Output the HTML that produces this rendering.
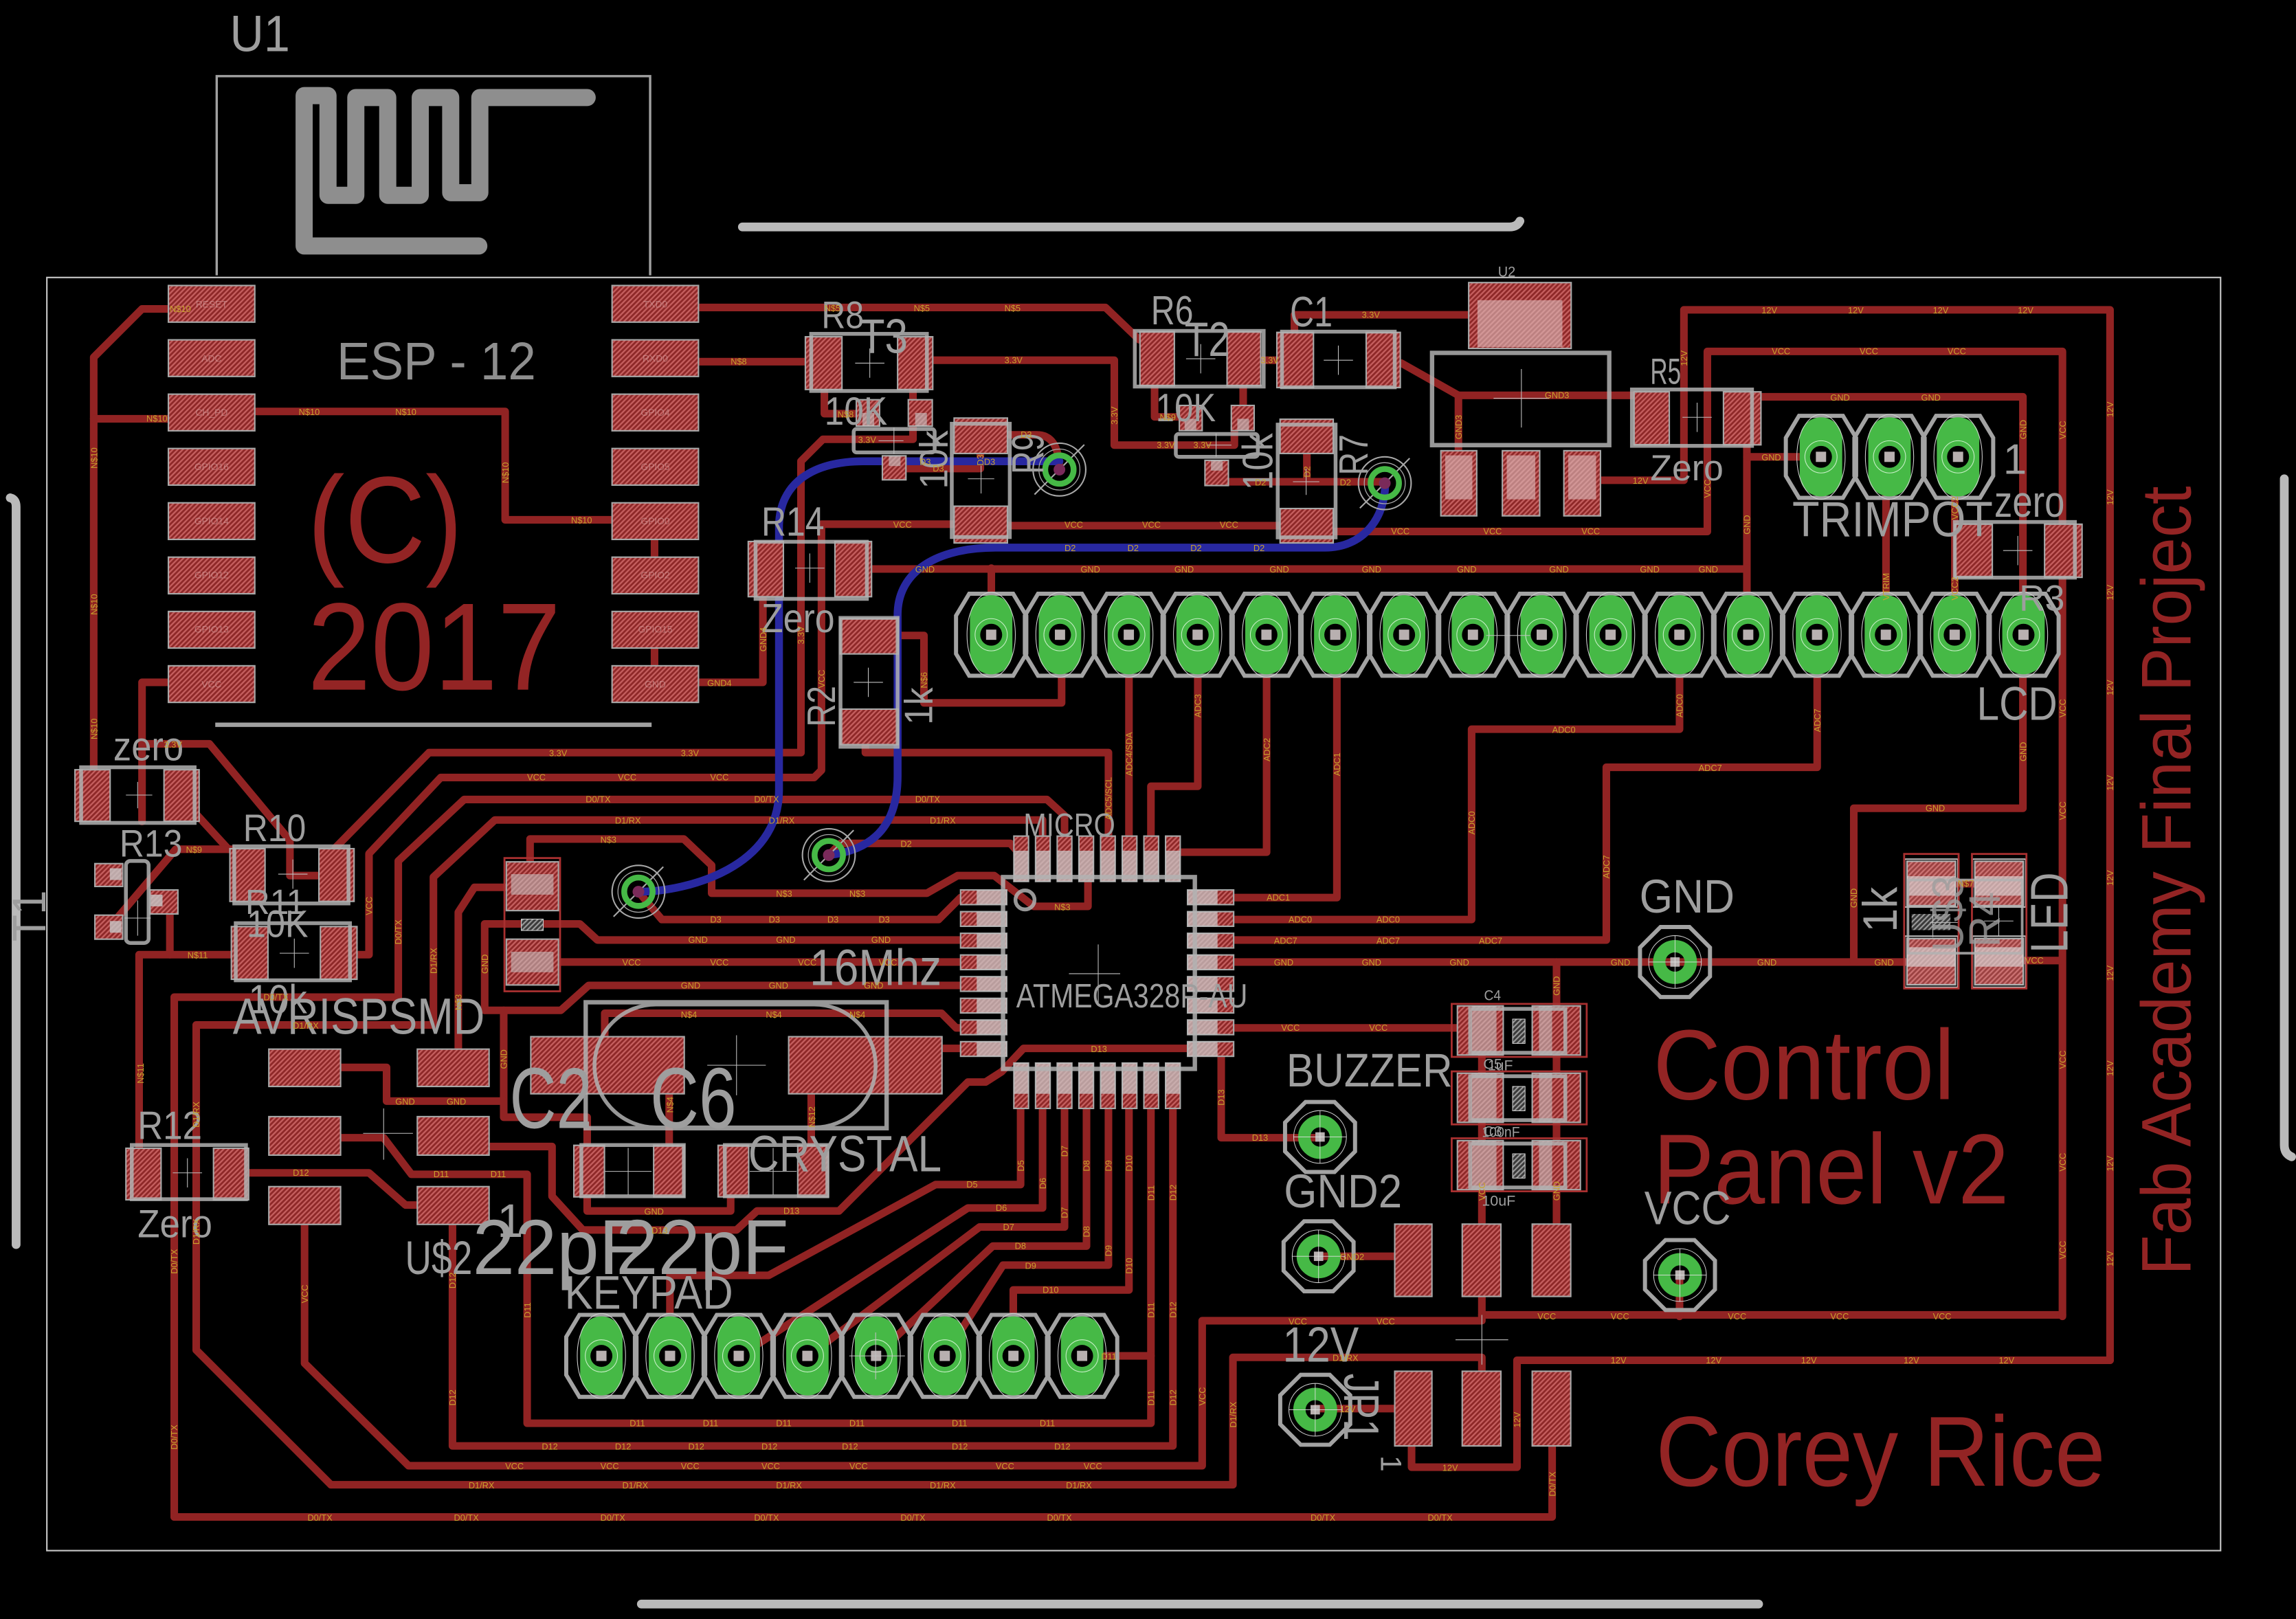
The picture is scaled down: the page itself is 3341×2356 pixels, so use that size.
<!DOCTYPE html>
<html><head><meta charset="utf-8">
<style>
html,body{margin:0;padding:0;background:#000;}
svg{display:block;}
text{font-family:"Liberation Sans","DejaVu Sans",sans-serif;}
.s{fill:#9e9e9e;}
.r{fill:#932424;}
.n{fill:#c9a22c;font-size:6px;}
.pl{fill:#d8a8a8;font-size:6.5px;opacity:.55;}
.p{fill:url(#hat);stroke:#a8a8a8;stroke-width:1;}
</style></head><body>
<svg xmlns="http://www.w3.org/2000/svg" xmlns:xlink="http://www.w3.org/1999/xlink" width="3341" height="2356" viewBox="0 0 1568 1105.7" preserveAspectRatio="none">
<defs>
<pattern id="hat" width="2.4" height="2.4" patternUnits="userSpaceOnUse" patternTransform="rotate(45)"><rect width="2.4" height="2.4" fill="#8e2828"/><rect width="1.1" height="2.4" fill="#c45e5e"/></pattern>
<pattern id="ghat" width="2.4" height="2.4" patternUnits="userSpaceOnUse" patternTransform="rotate(45)"><rect width="2.4" height="2.4" fill="#3a3a3a"/><rect width="1" height="2.4" fill="#9a9a9a"/></pattern>
<g id="lp">
<polygon points="-15,-28 15,-28 24,-13 24,13 15,28 -15,28 -24,13 -24,-13" fill="none" stroke="#a3a3a3" stroke-width="2.8"/>
<rect x="-14.5" y="-27" width="29" height="54" rx="14.5" fill="#46b946"/>
<ellipse rx="16.5" ry="29" fill="none" stroke="#d0d0d0" stroke-width=".5"/>
<circle r="11" fill="none" stroke="#c8f0c8" stroke-width=".5"/>
<circle r="7.5" fill="#000"/>
<rect x="-3.5" y="-3.5" width="7" height="7" fill="#b8b0b0"/>
</g>
<g id="rp">
<polygon points="23.9,-9.9 23.9,9.9 9.9,23.9 -9.9,23.9 -23.9,9.9 -23.9,-9.9 -9.9,-23.9 9.9,-23.9" fill="none" stroke="#a3a3a3" stroke-width="2.8"/>
<circle r="18" fill="none" stroke="#cccccc" stroke-width=".5"/>
<circle r="10.8" fill="none" stroke="#46b946" stroke-width="8.4"/>
<rect x="-3.2" y="-3.2" width="6.4" height="6.4" fill="#b8b0b0"/>
<path d="M-18,0 H18 M0,-18 V18" stroke="#e0e0e0" stroke-width=".4"/>
</g>
<g id="via">
<circle r="18" fill="none" stroke="#a8a8a8" stroke-width="1"/>
<circle r="14" fill="none" stroke="#a8a8a8" stroke-width=".6"/>
<line x1="17" y1="-17" x2="-17" y2="17" stroke="#a8a8a8" stroke-width="1"/>
<circle r="9.7" fill="none" stroke="#46b946" stroke-width="4"/>
<circle r="4" fill="#7a2a5a"/>
</g>
</defs>

<!-- board outline & mechanical -->
<rect x="32" y="189.5" width="1484.5" height="869.5" fill="none" stroke="#c8c8c8" stroke-width="1"/>
<g fill="none" stroke="#bababa" stroke-width="6" stroke-linecap="round">
<path d="M507,155 H1031 Q1036,155 1038,151"/>
<path d="M7,340 Q11,341 11,346 V850"/>
<path d="M1560,327 V782 Q1560,788 1565,790"/>
<path d="M438,1095.5 H1201"/>
</g>
<path d="M148,188 V52 H444 V188" fill="none" stroke="#a0a0a0" stroke-width="1.6"/>
<path d="M147,495 H445" stroke="#a0a0a0" stroke-width="3"/>
<path d="M327,168 H207.7 V65.3 H224 V133.4 H243 V66.6 H264.8 V133.4 H287 V66.6 H307.8 V131.6 H327.7 V66.6 H401" fill="none" stroke="#8e8e8e" stroke-width="11.7" stroke-linejoin="round" stroke-linecap="round"/>

<!-- red traces -->
<g fill="none" stroke="#912323" stroke-width="5.2" stroke-linejoin="round" stroke-linecap="round">
<path d="M115,211 H97 L64,244 V526"/>
<path d="M64,286 H115"/>
<path d="M174,281 H345 V355 H418"/>
<path d="M447,366 V382"/>
<path d="M447,440 V455"/>
<path d="M477,466 H521 V405"/>
<path d="M477,210 H755 L778,232"/>
<path d="M477,247 H552"/>
<path d="M563,264 V282.5 H586"/>
<path d="M637,246 H761 V304 H843 V292"/>
<path d="M623.5,275 V264"/>
<path d="M623.5,291 V300 H562 L547,315 V514 H293 L229,579"/>
<path d="M651,358 H561 V526 L556,531 H301 L252,583 V652 H243"/>
<path d="M115,466 H97 V561"/>
<path d="M97,508 H143 L198,574 V598 H218"/>
<path d="M134,556 L156,580"/>
<path d="M158,580 H120 L80,627"/>
<path d="M116,624 V652"/>
<path d="M95,784 V652 H158"/>
<path d="M119,1036 V681 H272 V588 L317,546 H715 L727,557 V572"/>
<path d="M226,1014 L134,922 V700 H296 V599 L338,560 H712 V572"/>
<path d="M362,589 V573 H467 L486,591 V610 H633 L654,598 H679 L706,619 H743 V602"/>
<path d="M346,606 H324 L313,623 V716"/>
<path d="M436,609 L452,628 H641 L656,613"/>
<path d="M566,584 L574,576 H690 L697,584"/>
<path d="M331,690 V631 H396 L408,642 H656"/>
<path d="M331,690 H383 L402,673 H656"/>
<path d="M232,729 H264 V752 H344 V690"/>
<path d="M344,752 V763 H401 V782"/>
<path d="M381,657 H656"/>
<path d="M413,716 V692 H643 L653,702 H660"/>
<path d="M643,716 H660"/>
<path d="M457,747 V782"/>
<path d="M554,747 V782"/>
<path d="M401,817 V827 H499 V817"/>
<path d="M334,783 H377 V817 L398,840 H503 L517,827 H573 L661,739 H673 L684,732 L699,716 H820"/>
<path d="M834,716 V777 H901"/>
<path d="M232,777 H262 L281,802 H360 V972 H786 V757"/>
<path d="M739,926 H786"/>
<path d="M170,801 H252 L277,823 H285"/>
<path d="M309,836 V987.5 H801 V757"/>
<path d="M208,836 V931 L279,1001 H821 V902 H1012 V898 H1408.5"/>
<path d="M1012,885 V898"/>
<path d="M226,1014 H842 V927 H1012 V936"/>
<path d="M119,1036 H1060 V987"/>
<path d="M1441,929 H1036 V1002 H964 V987"/>
<path d="M898,962 H953"/>
<path d="M900,858 H953"/>
<path d="M697,757 V809 H639 L525,871 H457.5 V926"/>
<path d="M712,757 V825 H661 L505,926"/>
<path d="M727,757 V838 H669 L552,926"/>
<path d="M742,757 V851 H678 L598,926"/>
<path d="M757,757 V864 H685 L645,926"/>
<path d="M771,757 V881 H692 V926"/>
<path d="M842,702 H995"/>
<path d="M842,657 H1302"/>
<path d="M1063,657 V836"/>
<path d="M1012,702 V836"/>
<path d="M842,613 H913 V433"/>
<path d="M842,628 H1005 V498 H1147 V433"/>
<path d="M842,642 H1097 V524 H1241 V433"/>
<path d="M801,582 H865 V433"/>
<path d="M786,572 V537 H818 V433"/>
<path d="M771,572 V433"/>
<path d="M591,508 V514 H757 V572"/>
<path d="M725,433 V480 H631 V434 H613"/>
<path d="M595,388.6 H1193 V271 H1381.5 V552 H1266 V657"/>
<path d="M677,388 V433"/>
<path d="M1193,388 V433"/>
<path d="M1193,312 H1243"/>
<path d="M911,363 H1166 V240 H1408.5 V899"/>
<path d="M689,359 H874"/>
<path d="M1383,656 H1408"/>
<path d="M1336,603.5 H1348"/>
<path d="M1288,312 V433"/>
<path d="M1335,312 V433"/>
<path d="M1094,328 H1150 V211.6 H1441 V929"/>
<path d="M957,248 L996,270 V308"/>
<path d="M996,270 H1117"/>
<path d="M884,228 V215 H1003"/>
<path d="M861,246 H872"/>
<path d="M788.5,263 V284.7 H806"/>
<path d="M849,277 V263"/>
<path d="M829,329 H946"/>
<path d="M892.5,309 V329"/>
<path d="M619,320 H669.5 V309"/>
<path d="M688,297 H708 Q723,297 723.5,320"/>
<path d="M1147,870 V899"/>
</g>

<!-- blue traces -->
<g fill="none" stroke="#2828a0" stroke-width="5.4" stroke-linecap="round">
<path d="M436,609 C470,609 532,592 532,540 V360 C532,330 555,315 590,315 H723.5"/>
<path d="M566,584 C600,580 613,560 613,530 V420 C613,390 640,374 680,374 H905 C930,374 946,355 946,330"/>
</g>

<!-- big red texts -->
<g class="r">
<text x="210" y="384" font-size="84" textLength="106" lengthAdjust="spacingAndGlyphs">(C)</text>
<text x="210" y="471" font-size="85" textLength="173" lengthAdjust="spacingAndGlyphs">2017</text>
<text x="1129" y="750.7" font-size="68" textLength="206" lengthAdjust="spacingAndGlyphs">Control</text>
<text x="1129" y="821.9" font-size="68" textLength="243" lengthAdjust="spacingAndGlyphs">Panel v2</text>
<text x="1130.8" y="1014.7" font-size="68" textLength="307" lengthAdjust="spacingAndGlyphs">Corey Rice</text>
<text transform="translate(1496,871) rotate(-90)" font-size="48" textLength="539" lengthAdjust="spacingAndGlyphs">Fab Academy Final Project</text>
</g>

<!-- SMD pads -->
<g>
<rect class="p" x="115" y="195" width="59" height="25"/>
<rect class="p" x="115" y="232.1" width="59" height="25"/>
<rect class="p" x="115" y="269.2" width="59" height="25"/>
<rect class="p" x="115" y="306.3" width="59" height="25"/>
<rect class="p" x="115" y="343.4" width="59" height="25"/>
<rect class="p" x="115" y="380.5" width="59" height="25"/>
<rect class="p" x="115" y="417.6" width="59" height="25"/>
<rect class="p" x="115" y="454.7" width="59" height="25"/>
<rect class="p" x="418" y="195" width="59" height="25"/>
<rect class="p" x="418" y="232.1" width="59" height="25"/>
<rect class="p" x="418" y="269.2" width="59" height="25"/>
<rect class="p" x="418" y="306.3" width="59" height="25"/>
<rect class="p" x="418" y="343.4" width="59" height="25"/>
<rect class="p" x="418" y="380.5" width="59" height="25"/>
<rect class="p" x="418" y="417.6" width="59" height="25"/>
<rect class="p" x="418" y="454.7" width="59" height="25"/>

<rect class="p" x="550" y="230" width="25" height="36"/>
<rect class="p" x="613" y="230" width="24" height="36"/>
<rect class="p" x="778.5" y="226.5" width="23.5" height="37"/>
<rect class="p" x="838" y="226.5" width="23" height="37"/>
<rect class="p" x="872" y="227" width="25" height="37.7"/>
<rect class="p" x="933" y="227" width="23.3" height="37.7"/>
<rect class="p" x="620.3" y="273" width="16.4" height="18"/>
<rect class="p" x="602.6" y="311.3" width="16.1" height="16.4"/>
<rect class="p" x="584.8" y="273" width="15.9" height="18"/>
<rect class="p" x="805.4" y="276.9" width="15.6" height="17.2"/>
<rect class="p" x="840.9" y="276.9" width="15.6" height="17.2"/>
<rect class="p" x="822.9" y="314.4" width="16" height="17.2"/>
<g fill="#cacaca" opacity=".6">
<rect x="589" y="282" width="8" height="9"/><rect x="625" y="282" width="8" height="9"/><rect x="607" y="311.3" width="8" height="7"/>
<rect x="809" y="286" width="8" height="8"/><rect x="845" y="286" width="8" height="8"/><rect x="827" y="314.4" width="8" height="7"/>
</g>
<rect class="p" x="651.6" y="285.5" width="36.4" height="24.2"/>
<rect class="p" x="651.6" y="345.7" width="36.4" height="25.1"/>
<rect class="p" x="874.2" y="286.3" width="36.3" height="23.4"/>
<rect class="p" x="874.2" y="347.3" width="36.3" height="23.5"/>
<rect class="p" x="511" y="369.8" width="24" height="37.7"/>
<rect class="p" x="570.2" y="369.8" width="25" height="37.7"/>
<rect class="p" x="573.8" y="422.3" width="39.5" height="24.3"/>
<rect class="p" x="573.8" y="484.3" width="39.5" height="24.2"/>
<rect class="p" x="1003" y="193" width="70" height="45"/>
<rect x="1009" y="205" width="58" height="32" fill="#dcbcbc" opacity=".6"/>
<rect class="p" x="984" y="307.8" width="24.5" height="44.5"/>
<rect class="p" x="1026" y="307.8" width="25.5" height="44.5"/>
<rect class="p" x="1068" y="307.8" width="25" height="44.5"/>
<rect x="987" y="311" width="18.5" height="30" fill="#dcbcbc" opacity=".6"/>
<rect x="1029" y="311" width="19.5" height="30" fill="#dcbcbc" opacity=".6"/>
<rect x="1071" y="311" width="19" height="30" fill="#dcbcbc" opacity=".6"/>
<rect class="p" x="1116" y="267.6" width="24" height="36.2"/>
<rect class="p" x="1177" y="267.6" width="25.6" height="36.2"/>
<rect class="p" x="1335" y="358" width="25.6" height="36.3"/>
<rect class="p" x="1396.3" y="358" width="25.6" height="36.3"/>
<rect class="p" x="51.2" y="525.7" width="24" height="35.2"/>
<rect class="p" x="112" y="525.7" width="24" height="35.2"/>
<rect class="p" x="64.8" y="589.8" width="19" height="15.6"/>
<rect class="p" x="64.8" y="625" width="19" height="16.4"/>
<rect class="p" x="102.5" y="607.8" width="19" height="16.4"/>
<rect x="75" y="593" width="8" height="8" fill="#c8c8c8" opacity=".8"/>
<rect x="75" y="629" width="8" height="8" fill="#c8c8c8" opacity=".8"/>
<rect x="103" y="611" width="8" height="8" fill="#c8c8c8" opacity=".8"/>
<rect class="p" x="157" y="579.6" width="24" height="36"/>
<rect class="p" x="217.8" y="579.6" width="24" height="36"/>
<rect class="p" x="158" y="632.8" width="25" height="36"/>
<rect class="p" x="218.8" y="632.8" width="25" height="36"/>
<rect class="p" x="86" y="784.2" width="24" height="35.2"/>
<rect class="p" x="145.8" y="784.2" width="24" height="35.2"/>
<rect class="p" x="345.8" y="588.6" width="35.6" height="33.3"/>
<rect class="p" x="345.8" y="641.4" width="35.6" height="31.3"/>
<rect x="349" y="597" width="29" height="14" fill="#c8c8c8" opacity=".55"/>
<rect x="349" y="650" width="29" height="14" fill="#c8c8c8" opacity=".55"/>
<rect x="356" y="627.7" width="15" height="7.8" fill="url(#ghat)" stroke="#ccc" stroke-width=".5"/>
<rect class="p" x="183.6" y="716.5" width="49" height="25.5"/>
<rect class="p" x="285" y="716.5" width="49" height="25.5"/>
<rect class="p" x="183.6" y="762.6" width="49" height="26.3"/>
<rect class="p" x="285" y="762.6" width="49" height="26.3"/>
<rect class="p" x="183.6" y="810.4" width="49" height="25.8"/>
<rect class="p" x="285" y="810.4" width="49" height="25.8"/>
<rect class="p" x="362.5" y="708" width="104.8" height="39"/>
<rect class="p" x="538.6" y="708" width="104.7" height="39"/>
<rect class="p" x="391.9" y="782.2" width="20.9" height="35.2"/>
<rect class="p" x="446.4" y="782.2" width="20.9" height="35.2"/>
<rect class="p" x="490.4" y="782.2" width="20.9" height="35.2"/>
<rect class="p" x="544.8" y="782.2" width="21" height="35.2"/>
<!-- MCU pads -->
<rect class="p" x="692.4" y="571" width="10" height="31"/><rect class="p" x="707.2" y="571" width="10" height="31"/><rect class="p" x="722" y="571" width="10" height="31"/><rect class="p" x="736.8" y="571" width="10" height="31"/><rect class="p" x="751.6" y="571" width="10" height="31"/><rect class="p" x="766.4" y="571" width="10" height="31"/><rect class="p" x="781.2" y="571" width="10" height="31"/><rect class="p" x="796" y="571" width="10" height="31"/>
<rect class="p" x="692.4" y="726" width="10" height="31"/><rect class="p" x="707.2" y="726" width="10" height="31"/><rect class="p" x="722" y="726" width="10" height="31"/><rect class="p" x="736.8" y="726" width="10" height="31"/><rect class="p" x="751.6" y="726" width="10" height="31"/><rect class="p" x="766.4" y="726" width="10" height="31"/><rect class="p" x="781.2" y="726" width="10" height="31"/><rect class="p" x="796" y="726" width="10" height="31"/>
<rect class="p" x="656" y="607.8" width="31.5" height="10"/><rect class="p" x="656" y="622.6" width="31.5" height="10"/><rect class="p" x="656" y="637.4" width="31.5" height="10"/><rect class="p" x="656" y="652.2" width="31.5" height="10"/><rect class="p" x="656" y="667" width="31.5" height="10"/><rect class="p" x="656" y="681.8" width="31.5" height="10"/><rect class="p" x="656" y="696.6" width="31.5" height="10"/><rect class="p" x="656" y="711.4" width="31.5" height="10"/>
<rect class="p" x="811" y="607.8" width="31.5" height="10"/><rect class="p" x="811" y="622.6" width="31.5" height="10"/><rect class="p" x="811" y="637.4" width="31.5" height="10"/><rect class="p" x="811" y="652.2" width="31.5" height="10"/><rect class="p" x="811" y="667" width="31.5" height="10"/><rect class="p" x="811" y="681.8" width="31.5" height="10"/><rect class="p" x="811" y="696.6" width="31.5" height="10"/><rect class="p" x="811" y="711.4" width="31.5" height="10"/>
<g fill="#cacaca" opacity=".72">
<rect x="692.4" y="581" width="10" height="21"/><rect x="707.2" y="581" width="10" height="21"/><rect x="722" y="581" width="10" height="21"/><rect x="736.8" y="581" width="10" height="21"/><rect x="751.6" y="581" width="10" height="21"/><rect x="766.4" y="581" width="10" height="21"/><rect x="781.2" y="581" width="10" height="21"/><rect x="796" y="581" width="10" height="21"/>
<rect x="692.4" y="726" width="10" height="21"/><rect x="707.2" y="726" width="10" height="21"/><rect x="722" y="726" width="10" height="21"/><rect x="736.8" y="726" width="10" height="21"/><rect x="751.6" y="726" width="10" height="21"/><rect x="766.4" y="726" width="10" height="21"/><rect x="781.2" y="726" width="10" height="21"/><rect x="796" y="726" width="10" height="21"/>
<rect x="667" y="607.8" width="20.5" height="10"/><rect x="667" y="622.6" width="20.5" height="10"/><rect x="667" y="637.4" width="20.5" height="10"/><rect x="667" y="652.2" width="20.5" height="10"/><rect x="667" y="667" width="20.5" height="10"/><rect x="667" y="681.8" width="20.5" height="10"/><rect x="667" y="696.6" width="20.5" height="10"/><rect x="667" y="711.4" width="20.5" height="10"/>
<rect x="811" y="607.8" width="20.5" height="10"/><rect x="811" y="622.6" width="20.5" height="10"/><rect x="811" y="637.4" width="20.5" height="10"/><rect x="811" y="652.2" width="20.5" height="10"/><rect x="811" y="667" width="20.5" height="10"/><rect x="811" y="681.8" width="20.5" height="10"/><rect x="811" y="696.6" width="20.5" height="10"/><rect x="811" y="711.4" width="20.5" height="10"/>
</g>
<!-- C4 C5 C3 -->
<rect class="p" x="995.3" y="687" width="31.3" height="33.5"/><rect class="p" x="1046.4" y="687" width="32.9" height="33.5"/>
<rect class="p" x="995.3" y="733" width="31.3" height="33.5"/><rect class="p" x="1046.4" y="733" width="32.9" height="33.5"/>
<rect class="p" x="995.3" y="779" width="31.3" height="33.5"/><rect class="p" x="1046.4" y="779" width="32.9" height="33.5"/>
<g fill="#cccccc" opacity=".55">
<rect x="1005" y="687" width="17" height="33.5"/><rect x="1051" y="687" width="9" height="33.5"/>
<rect x="1005" y="733" width="17" height="33.5"/><rect x="1051" y="733" width="9" height="33.5"/>
<rect x="1005" y="779" width="17" height="33.5"/><rect x="1051" y="779" width="9" height="33.5"/>
</g>
<g fill="url(#ghat)" stroke="#d0d0d0" stroke-width=".5">
<rect x="1033" y="696" width="8.5" height="16.6"/><rect x="1033" y="742" width="8.5" height="16.6"/><rect x="1033" y="788" width="8.5" height="16.6"/>
</g>
<g fill="none" stroke="#a83030" stroke-width="1.3">
<rect x="991.4" y="685.6" width="92.2" height="36.2"/><rect x="991.4" y="731.7" width="92.2" height="36.2"/><rect x="991.4" y="777.4" width="92.2" height="36.2"/>
</g>
<!-- header -->
<rect class="p" x="952.5" y="836" width="25.4" height="49.4"/><rect class="p" x="998.6" y="836" width="26.4" height="49.4"/><rect class="p" x="1046.4" y="836" width="26.3" height="49.4"/>
<rect class="p" x="952.5" y="936.5" width="25.4" height="51"/><rect class="p" x="998.6" y="936.5" width="26.4" height="51"/><rect class="p" x="1046.4" y="936.5" width="26.3" height="51"/>
<!-- LED / R4 -->
<rect class="p" x="1302.4" y="588.2" width="33" height="30.3"/>
<rect class="p" x="1302.4" y="641" width="33" height="31.5"/>
<rect class="p" x="1348.7" y="588.2" width="33" height="30.3"/>
<rect class="p" x="1348.7" y="641" width="33" height="31.5"/>
<g fill="#d4d4d4" opacity=".65">
<rect x="1302.4" y="598.4" width="33" height="13.3"/>
<rect x="1302.4" y="646.9" width="33" height="13.3"/>
<rect x="1348.7" y="598.4" width="33" height="13.3"/>
<rect x="1348.7" y="646.9" width="33" height="13.3"/>
</g>
<g fill="#ffffff" opacity=".12">
<rect x="1300.8" y="586.7" width="36.2" height="32.8"/><rect x="1300.8" y="639.3" width="36.2" height="35"/>
<rect x="1347.1" y="586.7" width="36.2" height="32.8"/><rect x="1347.1" y="639.3" width="36.2" height="35"/>
</g>
<g fill="none" stroke="#cfcfcf" stroke-width=".8">
<rect x="1300.8" y="586.7" width="36.2" height="32.8"/><rect x="1300.8" y="639.3" width="36.2" height="35"/>
<rect x="1347.1" y="586.7" width="36.2" height="32.8"/><rect x="1347.1" y="639.3" width="36.2" height="35"/>
</g>
<rect x="1305.5" y="624.2" width="26.5" height="11" fill="url(#ghat)"/>
<g fill="none" stroke="#a83030" stroke-width="1.3"><rect x="1300.4" y="583.2" width="37.2" height="91.9"/><rect x="1346.7" y="583.2" width="37.2" height="91.9"/></g>
</g>

<!-- ESP pad labels -->
<g class="pl" text-anchor="middle">
<text x="144.5" y="210">RESET</text><text x="144.5" y="247">ADC</text><text x="144.5" y="284">CH_PD</text><text x="144.5" y="321">GPIO16</text><text x="144.5" y="358">GPIO14</text><text x="144.5" y="395">GPIO12</text><text x="144.5" y="432">GPIO13</text><text x="144.5" y="469.5">VCC</text>
<text x="447.5" y="210">TXD0</text><text x="447.5" y="247">RXD0</text><text x="447.5" y="284">GPIO4</text><text x="447.5" y="321">GPIO5</text><text x="447.5" y="358">GPIO0</text><text x="447.5" y="395">GPIO2</text><text x="447.5" y="432">GPIO15</text><text x="447.5" y="469.5">GND</text>
</g>

<!-- THT pads -->
<g>
<use href="#lp" x="676.9" y="433.5"/><use href="#lp" x="723.9" y="433.5"/><use href="#lp" x="770.9" y="433.5"/><use href="#lp" x="817.9" y="433.5"/><use href="#lp" x="864.9" y="433.5"/><use href="#lp" x="911.9" y="433.5"/><use href="#lp" x="958.9" y="433.5"/><use href="#lp" x="1005.9" y="433.5"/><use href="#lp" x="1052.9" y="433.5"/><use href="#lp" x="1099.9" y="433.5"/><use href="#lp" x="1146.9" y="433.5"/><use href="#lp" x="1193.9" y="433.5"/><use href="#lp" x="1240.9" y="433.5"/><use href="#lp" x="1287.9" y="433.5"/><use href="#lp" x="1334.9" y="433.5"/><use href="#lp" x="1381.9" y="433.5"/>
<use href="#lp" x="1243.6" y="312"/><use href="#lp" x="1290.4" y="312"/><use href="#lp" x="1337.2" y="312"/>
<use href="#lp" x="410.7" y="926"/><use href="#lp" x="457.6" y="926"/><use href="#lp" x="504.5" y="926"/><use href="#lp" x="551.4" y="926"/><use href="#lp" x="598.3" y="926"/><use href="#lp" x="645.2" y="926"/><use href="#lp" x="692.1" y="926"/><use href="#lp" x="739" y="926"/>
<use href="#rp" x="1143.9" y="657"/><use href="#rp" x="901.5" y="776.5"/><use href="#rp" x="900.5" y="858"/><use href="#rp" x="1147.3" y="870.8"/><use href="#rp" x="898.2" y="962.8"/>
<use href="#via" x="723.5" y="320.7"/><use href="#via" x="945.7" y="330"/><use href="#via" x="436" y="609"/><use href="#via" x="566" y="584"/>
</g>

<!-- silkscreen outlines -->
<g fill="none" stroke="#b2b2b2" stroke-width="2.6" opacity=".85">
<rect x="554" y="228" width="79" height="39"/>
<rect x="775" y="226" width="88" height="38"/>
<rect x="875.5" y="226.5" width="77" height="38"/>
<rect x="583" y="293" width="55.3" height="16" rx="2"/>
<rect x="803" y="296.4" width="56" height="15.6" rx="2"/>
<rect x="650" y="289.4" width="39.6" height="77.4"/>
<rect x="872.6" y="290" width="39.5" height="77"/>
<rect x="516" y="370" width="76" height="39"/>
<rect x="574" y="422" width="39" height="88"/>
<rect x="1114.5" y="266" width="82" height="38.5"/>
<rect x="1335" y="356.5" width="82" height="38"/>
<rect x="978" y="241" width="121" height="63" stroke-width="3"/>
<rect x="55.4" y="524" width="77.5" height="38"/>
<rect x="160" y="578" width="78" height="39"/>
<rect x="161" y="630.5" width="78" height="39"/>
<rect x="90" y="782" width="78" height="37"/>
<rect x="86" y="588" width="15.5" height="56" rx="3"/>
<rect x="400" y="684.5" width="205.5" height="86" stroke-width="3"/>
<rect x="406" y="686" width="192" height="84" rx="42"/>
<rect x="397" y="782" width="70" height="35"/>
<rect x="495" y="782" width="70" height="35"/>
<rect x="685" y="599" width="131" height="131" stroke-width="3"/>
<circle cx="700" cy="614.6" r="6.5"/>
<rect x="1004" y="689" width="65" height="30"/>
<rect x="1004" y="735" width="65" height="30"/>
<rect x="1004" y="781" width="65" height="30"/>
<rect x="1303" y="601" width="78" height="50" stroke-width="1.8"/>
</g>
<rect x="344.5" y="586" width="38" height="91" fill="none" stroke="#a83030" stroke-width="1.3"/>
<!-- crosshairs -->
<g stroke="#c0c0c0" stroke-width=".5">
<path d="M584,248 H604 M594,238 V258"/>
<path d="M810,245 H830 M820,235 V255"/>
<path d="M904,246 H924 M914,236 V256"/>
<path d="M1020,272 H1058 M1039,252 V292"/>
<path d="M1149,285 H1169 M1159,275 V295"/>
<path d="M1368,376 H1388 M1378,366 V386"/>
<path d="M543,388 H563 M553,378 V398"/>
<path d="M583,466 H603 M593,456 V476"/>
<path d="M600,301 H617 M610.5,292 V310"/>
<path d="M824,304 H841 M830.5,296 V312"/>
<path d="M661,327 H679 M670,318 V337"/>
<path d="M883,329 H901 M892,320 V338"/>
<path d="M730,665 H765 M750,645 V685"/>
<path d="M483,727.5 H523 M503,707 V748"/>
<path d="M413,800 H445 M429,784 V816"/>
<path d="M512,800 H544 M528,784 V816"/>
<path d="M248,774 H282 M262,757 V792"/>
<path d="M994,915 H1030 M1012,898 V932"/>
<path d="M1015,434 H1045 M1030,419 V449"/>
<path d="M86,543 H104 M94,534 V552"/>
<path d="M190,597 H210 M200,587 V607"/>
<path d="M191,651 H211 M201,641 V661"/>
<path d="M118,801 H138 M128,791 V811"/>
<path d="M85,627 H103 M94,615 V639"/>
<path d="M580,926 H618 M598,910 V942"/>
<path d="M1318,630 H1337 M1320,620 V640"/>
<path d="M1355,629 H1375 M1365,619 V639"/>
</g>

<!-- silkscreen labels -->
<g class="s">
<text x="157" y="35" font-size="35" textLength="41" lengthAdjust="spacingAndGlyphs">U1</text>
<text x="230" y="259" font-size="36" textLength="136" lengthAdjust="spacingAndGlyphs" fill="#8e8e8e">ESP - 12</text>
<text x="561" y="224" font-size="26" textLength="29" lengthAdjust="spacingAndGlyphs">R8</text>
<text x="587" y="241" font-size="33" textLength="33" lengthAdjust="spacingAndGlyphs">T3</text>
<text x="563" y="290" font-size="27" textLength="43" lengthAdjust="spacingAndGlyphs">10K</text>
<text transform="translate(712.6,323.8) rotate(-90)" font-size="31" textLength="28" lengthAdjust="spacingAndGlyphs">R9</text>
<text transform="translate(646.9,334) rotate(-90)" font-size="27" textLength="40" lengthAdjust="spacingAndGlyphs">10k</text>
<text x="786" y="221.6" font-size="28" textLength="29" lengthAdjust="spacingAndGlyphs">R6</text>
<text x="809" y="243" font-size="33" textLength="31" lengthAdjust="spacingAndGlyphs">T2</text>
<text x="789.3" y="287.8" font-size="27" textLength="41" lengthAdjust="spacingAndGlyphs">10K</text>
<text transform="translate(934,324.6) rotate(-90)" font-size="28" textLength="28" lengthAdjust="spacingAndGlyphs">R7</text>
<text transform="translate(869,334.8) rotate(-90)" font-size="29" textLength="39" lengthAdjust="spacingAndGlyphs">10k</text>
<text x="881" y="223" font-size="29" textLength="29" lengthAdjust="spacingAndGlyphs">C1</text>
<text x="1023" y="189" font-size="10" textLength="12" lengthAdjust="spacingAndGlyphs">U2</text>
<text x="1127" y="262" font-size="25" textLength="21" lengthAdjust="spacingAndGlyphs">R5</text>
<text x="1127" y="328" font-size="25" textLength="50" lengthAdjust="spacingAndGlyphs">Zero</text>
<text x="1368" y="323.5" font-size="29">1</text>
<text x="1224" y="366.4" font-size="34" textLength="137" lengthAdjust="spacingAndGlyphs">TRIMPOT</text>
<text x="1362" y="353" font-size="30" textLength="48" lengthAdjust="spacingAndGlyphs">zero</text>
<text x="1379" y="417" font-size="25" textLength="31" lengthAdjust="spacingAndGlyphs">R3</text>
<text x="1350" y="491.5" font-size="32" textLength="55" lengthAdjust="spacingAndGlyphs">LCD</text>
<text x="520" y="365.8" font-size="28" textLength="43" lengthAdjust="spacingAndGlyphs">R14</text>
<text x="520" y="431.7" font-size="28" textLength="50" lengthAdjust="spacingAndGlyphs">Zero</text>
<text transform="translate(570.2,496.4) rotate(-90)" font-size="27" textLength="28" lengthAdjust="spacingAndGlyphs">R2</text>
<text transform="translate(636.6,495) rotate(-90)" font-size="27" textLength="25.5" lengthAdjust="spacingAndGlyphs">1k</text>
<text x="699" y="571" font-size="22" textLength="62.6" lengthAdjust="spacingAndGlyphs">MICRO</text>
<text x="694" y="688" font-size="23" textLength="158" lengthAdjust="spacingAndGlyphs">ATMEGA328P-AU</text>
<text x="553" y="672.7" font-size="35" textLength="90" lengthAdjust="spacingAndGlyphs">16Mhz</text>
<text x="511" y="800" font-size="35" textLength="132" lengthAdjust="spacingAndGlyphs">CRYSTAL</text>
<text x="348" y="770.5" font-size="59" textLength="56.5" lengthAdjust="spacingAndGlyphs">C2</text>
<text x="444" y="770.5" font-size="59" textLength="59" lengthAdjust="spacingAndGlyphs">C6</text>
<text x="322.7" y="870" font-size="53" textLength="118" lengthAdjust="spacingAndGlyphs">22pF</text>
<text x="420.6" y="870" font-size="53" textLength="118" lengthAdjust="spacingAndGlyphs">22pF</text>
<text x="385.6" y="893.7" font-size="32" textLength="115" lengthAdjust="spacingAndGlyphs">KEYPAD</text>
<text x="276.6" y="870" font-size="32" textLength="46" lengthAdjust="spacingAndGlyphs">U$2</text>
<text x="339.5" y="844.8" font-size="32">1</text>
<text x="159" y="706" font-size="35" textLength="172" lengthAdjust="spacingAndGlyphs">AVRISPSMD</text>
<text x="166" y="574.5" font-size="26" textLength="43" lengthAdjust="spacingAndGlyphs">R10</text>
<text x="167.5" y="624.2" font-size="24" textLength="41" lengthAdjust="spacingAndGlyphs">R11</text>
<text x="168.5" y="640" font-size="26" textLength="42" lengthAdjust="spacingAndGlyphs">10K</text>
<text x="169.7" y="692" font-size="28" textLength="40" lengthAdjust="spacingAndGlyphs">10k</text>
<text x="81.6" y="585" font-size="26" textLength="43" lengthAdjust="spacingAndGlyphs">R13</text>
<text x="77.4" y="519.4" font-size="28" textLength="48" lengthAdjust="spacingAndGlyphs">zero</text>
<text x="94" y="778" font-size="27" textLength="44" lengthAdjust="spacingAndGlyphs">R12</text>
<text x="94" y="845" font-size="27" textLength="51" lengthAdjust="spacingAndGlyphs">Zero</text>
<text transform="translate(31,643) rotate(-90)" font-size="32" textLength="35" lengthAdjust="spacingAndGlyphs">T1</text>
<text x="1119.6" y="623.2" font-size="32" textLength="65" lengthAdjust="spacingAndGlyphs">GND</text>
<text x="878.5" y="742" font-size="32" textLength="113.5" lengthAdjust="spacingAndGlyphs">BUZZER</text>
<text x="876.8" y="824.5" font-size="32" textLength="80.7" lengthAdjust="spacingAndGlyphs">GND2</text>
<text x="876" y="930" font-size="34" textLength="52" lengthAdjust="spacingAndGlyphs">12V</text>
<text transform="translate(918,938) rotate(90)" font-size="34" textLength="46" lengthAdjust="spacingAndGlyphs">JP1</text>
<text transform="translate(943,994) rotate(90)" font-size="20">1</text>
<text x="1123" y="836" font-size="32" textLength="59" lengthAdjust="spacingAndGlyphs">VCC</text>
<text x="1013.5" y="683" font-size="10" textLength="11.5" lengthAdjust="spacingAndGlyphs">C4</text>
<text x="1013" y="730" font-size="10">C5</text><text x="1016" y="731" font-size="10">1uF</text>
<text x="1013" y="776" font-size="10">C3</text><text x="1012" y="776.5" font-size="10" textLength="26" lengthAdjust="spacingAndGlyphs">100nF</text>
<text x="1012" y="823.5" font-size="10" textLength="23" lengthAdjust="spacingAndGlyphs">10uF</text>
<text transform="translate(1295.3,636.7) rotate(-90)" font-size="33" textLength="31" lengthAdjust="spacingAndGlyphs">1k</text>
<text transform="translate(1412,650.8) rotate(-90)" font-size="36" textLength="55" lengthAdjust="spacingAndGlyphs">LED</text>
<text transform="translate(1340.7,650) rotate(-90)" font-size="30" textLength="52" lengthAdjust="spacingAndGlyphs" opacity=".8">U$3</text>
<text transform="translate(1365.8,647) rotate(-90)" font-size="30" textLength="38" lengthAdjust="spacingAndGlyphs" opacity=".8">R4</text>
</g>

<!-- net labels -->
<g class="n">
<text x="563" y="212.5">N$5</text><text x="624" y="212.5">N$5</text><text x="686" y="212.5">N$5</text>
<text x="499" y="249">N$8</text><text x="572" y="285">N$8</text><text x="792" y="287">N$9</text>
<text x="116" y="213">N$10</text><text x="100" y="288">N$10</text><text x="204" y="283.5">N$10</text><text x="270" y="283.5">N$10</text><text x="390" y="357.5">N$10</text>
<text x="686" y="248">3.3V</text><text x="790" y="306">3.3V</text><text x="815" y="306">3.3V</text><text x="930" y="217">3.3V</text><text x="861" y="248">3.3V</text><text x="586" y="302.5">3.3V</text>
<text x="610" y="360.5">VCC</text><text x="727" y="360.5">VCC</text><text x="780" y="360.5">VCC</text><text x="833" y="360.5">VCC</text><text x="950" y="365">VCC</text><text x="1013" y="365">VCC</text><text x="1080" y="365">VCC</text>
<text x="1210" y="242">VCC</text><text x="1270" y="242">VCC</text><text x="1330" y="242">VCC</text>
<text x="625" y="391">GND</text><text x="738" y="391">GND</text><text x="802" y="391">GND</text><text x="867" y="391">GND</text><text x="930" y="391">GND</text><text x="995" y="391">GND</text><text x="1058" y="391">GND</text><text x="1120" y="391">GND</text><text x="1160" y="391">GND</text>
<text x="727" y="376.5">D2</text><text x="770" y="376.5">D2</text><text x="813" y="376.5">D2</text><text x="856" y="376.5">D2</text>
<text x="857" y="331.5">D2</text><text x="915" y="331.5">D2</text><text x="628" y="317.5">D3</text><text x="637" y="322">D3</text><text x="672" y="317.5">D3</text><text x="697" y="299">D3</text>
<text x="1203" y="214">12V</text><text x="1262" y="214">12V</text><text x="1320" y="214">12V</text><text x="1378" y="214">12V</text>
<text x="1250" y="273.5">GND</text><text x="1312" y="273.5">GND</text>
<text x="1055" y="272">GND3</text><text x="1115" y="330.5">12V</text><text x="1203" y="314.5">GND</text>
<text x="1060" y="500.5">ADC0</text><text x="1160" y="526.5">ADC7</text><text x="1315" y="554">GND</text>
<text x="400" y="548">D0/TX</text><text x="515" y="548">D0/TX</text><text x="625" y="548">D0/TX</text>
<text x="420" y="562.5">D1/RX</text><text x="525" y="562.5">D1/RX</text><text x="635" y="562.5">D1/RX</text>
<text x="375" y="516.5">3.3V</text><text x="465" y="516.5">3.3V</text>
<text x="360" y="533">VCC</text><text x="422" y="533">VCC</text><text x="485" y="533">VCC</text>
<text x="410" y="575.5">N$3</text><text x="530" y="612.5">N$3</text><text x="580" y="612.5">N$3</text><text x="720" y="621.5">N$3</text>
<text x="485" y="630">D3</text><text x="525" y="630">D3</text><text x="565" y="630">D3</text><text x="600" y="630">D3</text>
<text x="615" y="578.5">D2</text>
<text x="470" y="644">GND</text><text x="530" y="644">GND</text><text x="595" y="644">GND</text>
<text x="425" y="659.5">VCC</text><text x="485" y="659.5">VCC</text><text x="545" y="659.5">VCC</text><text x="600" y="659.5">VCC</text>
<text x="465" y="675">GND</text><text x="525" y="675">GND</text><text x="590" y="675">GND</text>
<text x="465" y="695">N$4</text><text x="523" y="695">N$4</text><text x="580" y="695">N$4</text>
<text x="865" y="615">ADC1</text><text x="880" y="630">ADC0</text><text x="940" y="630">ADC0</text><text x="870" y="644.5">ADC7</text><text x="940" y="644.5">ADC7</text><text x="1010" y="644.5">ADC7</text>
<text x="870" y="659.5">GND</text><text x="930" y="659.5">GND</text><text x="990" y="659.5">GND</text><text x="1100" y="659.5">GND</text><text x="1200" y="659.5">GND</text><text x="1280" y="659.5">GND</text>
<text x="1383" y="658">VCC</text><text x="1337" y="605.5">N$7</text>
<text x="875" y="704">VCC</text><text x="935" y="704">VCC</text>
<text x="745" y="718.5">D13</text><text x="855" y="779">D13</text>
<text x="660" y="811">D5</text><text x="680" y="827">D6</text><text x="685" y="840">D7</text><text x="693" y="853">D8</text><text x="700" y="866.5">D9</text><text x="712" y="883">D10</text>
<text x="430" y="974">D11</text><text x="480" y="974">D11</text><text x="530" y="974">D11</text><text x="580" y="974">D11</text><text x="650" y="974">D11</text><text x="710" y="974">D11</text><text x="752" y="928.5">D11</text>
<text x="370" y="990">D12</text><text x="420" y="990">D12</text><text x="470" y="990">D12</text><text x="520" y="990">D12</text><text x="575" y="990">D12</text><text x="650" y="990">D12</text><text x="720" y="990">D12</text>
<text x="345" y="1003.5">VCC</text><text x="410" y="1003.5">VCC</text><text x="465" y="1003.5">VCC</text><text x="520" y="1003.5">VCC</text><text x="580" y="1003.5">VCC</text><text x="680" y="1003.5">VCC</text><text x="740" y="1003.5">VCC</text>
<text x="320" y="1016.5">D1/RX</text><text x="425" y="1016.5">D1/RX</text><text x="530" y="1016.5">D1/RX</text><text x="635" y="1016.5">D1/RX</text><text x="728" y="1016.5">D1/RX</text>
<text x="210" y="1038.5">D0/TX</text><text x="310" y="1038.5">D0/TX</text><text x="410" y="1038.5">D0/TX</text><text x="515" y="1038.5">D0/TX</text><text x="615" y="1038.5">D0/TX</text><text x="715" y="1038.5">D0/TX</text><text x="895" y="1038.5">D0/TX</text><text x="975" y="1038.5">D0/TX</text>
<text x="880" y="904.5">VCC</text><text x="940" y="904.5">VCC</text><text x="1050" y="901">VCC</text><text x="1100" y="901">VCC</text><text x="1180" y="901">VCC</text><text x="1250" y="901">VCC</text><text x="1320" y="901">VCC</text>
<text x="1100" y="931">12V</text><text x="1165" y="931">12V</text><text x="1230" y="931">12V</text><text x="1300" y="931">12V</text><text x="1365" y="931">12V</text>
<text x="910" y="929.5">D1/RX</text><text x="985" y="1004.5">12V</text><text x="915" y="860.5">GND2</text><text x="915" y="964.5">12V</text>
<text x="440" y="829.5">GND</text><text x="445" y="842.5">D13</text><text x="535" y="829">D13</text>
<text x="296" y="804">D11</text><text x="335" y="804">D11</text><text x="200" y="803">D12</text>
<text x="270" y="754.5">GND</text><text x="305" y="754.5">GND</text>
<text x="127" y="582.5">N$9</text><text x="128" y="654.5">N$11</text><text x="112" y="510.5">3.3V</text><text x="483" y="468.5">GND4</text>
<text x="180" y="683">D0/TX</text><text x="200" y="702.5">D1/RX</text>
</g>
<g class="n">
<text transform="translate(66.3,320) rotate(-90)">N$10</text><text transform="translate(66.3,420) rotate(-90)">N$10</text><text transform="translate(66.3,505) rotate(-90)">N$10</text>
<text transform="translate(549.2,440) rotate(-90)">3.3V</text><text transform="translate(563.2,470) rotate(-90)">VCC</text>
<text transform="translate(523.2,445) rotate(-90)">GND4</text>
<text transform="translate(773.2,530) rotate(-90)">ADC4/SDA</text><text transform="translate(820.2,490) rotate(-90)">ADC3</text><text transform="translate(867.2,520) rotate(-90)">ADC2</text><text transform="translate(915.2,530) rotate(-90)">ADC1</text>
<text transform="translate(1007.2,570) rotate(-90)">ADC0</text><text transform="translate(1099.2,600) rotate(-90)">ADC7</text><text transform="translate(1243.2,500) rotate(-90)">ADC7</text><text transform="translate(1149.2,490) rotate(-90)">ADC0</text>
<text transform="translate(1383.7,520) rotate(-90)">GND</text><text transform="translate(1383.7,300) rotate(-90)">GND</text>
<text transform="translate(1410.7,300) rotate(-90)">VCC</text><text transform="translate(1410.7,490) rotate(-90)">VCC</text><text transform="translate(1410.7,560) rotate(-90)">VCC</text><text transform="translate(1410.7,730) rotate(-90)">VCC</text><text transform="translate(1410.7,800) rotate(-90)">VCC</text><text transform="translate(1410.7,860) rotate(-90)">VCC</text>
<text transform="translate(1443.2,285) rotate(-90)">12V</text><text transform="translate(1443.2,345) rotate(-90)">12V</text><text transform="translate(1443.2,410) rotate(-90)">12V</text><text transform="translate(1443.2,475) rotate(-90)">12V</text><text transform="translate(1443.2,540) rotate(-90)">12V</text><text transform="translate(1443.2,605) rotate(-90)">12V</text><text transform="translate(1443.2,670) rotate(-90)">12V</text><text transform="translate(1443.2,735) rotate(-90)">12V</text><text transform="translate(1443.2,800) rotate(-90)">12V</text><text transform="translate(1443.2,865) rotate(-90)">12V</text>
<text transform="translate(1195.2,365) rotate(-90)">GND</text><text transform="translate(1168.2,340) rotate(-90)">VCC</text><text transform="translate(1268.2,620) rotate(-90)">GND</text>
<text transform="translate(1290.2,410) rotate(-90)">VTRIM</text><text transform="translate(1337.2,355) rotate(-90)">VCC2</text><text transform="translate(1337.2,410) rotate(-90)">VCC2</text>
<text transform="translate(699.2,800) rotate(-90)">D5</text><text transform="translate(714.2,812) rotate(-90)">D6</text><text transform="translate(729.2,790) rotate(-90)">D7</text><text transform="translate(744.2,800) rotate(-90)">D8</text><text transform="translate(759.2,800) rotate(-90)">D9</text><text transform="translate(773.2,800) rotate(-90)">D10</text>
<text transform="translate(729.2,832) rotate(-90)">D7</text><text transform="translate(744.2,845) rotate(-90)">D8</text><text transform="translate(759.2,858) rotate(-90)">D9</text><text transform="translate(773.2,870) rotate(-90)">D10</text>
<text transform="translate(788.2,820) rotate(-90)">D11</text><text transform="translate(788.2,900) rotate(-90)">D11</text><text transform="translate(788.2,960) rotate(-90)">D11</text>
<text transform="translate(803.2,820) rotate(-90)">D12</text><text transform="translate(803.2,900) rotate(-90)">D12</text><text transform="translate(803.2,960) rotate(-90)">D12</text>
<text transform="translate(362.2,900) rotate(-90)">D11</text><text transform="translate(311.2,880) rotate(-90)">D12</text><text transform="translate(311.2,960) rotate(-90)">D12</text>
<text transform="translate(210.2,890) rotate(-90)">VCC</text><text transform="translate(121.2,870) rotate(-90)">D0/TX</text><text transform="translate(121.2,990) rotate(-90)">D0/TX</text>
<text transform="translate(136.2,770) rotate(-90)">D1/RX</text><text transform="translate(136.2,850) rotate(-90)">D1/RX</text><text transform="translate(98.2,740) rotate(-90)">N$11</text>
<text transform="translate(274.2,645) rotate(-90)">D0/TX</text><text transform="translate(298.2,665) rotate(-90)">D1/RX</text><text transform="translate(254.2,625) rotate(-90)">VCC</text>
<text transform="translate(315.2,690) rotate(-90)">N$3</text><text transform="translate(333.2,665) rotate(-90)">GND</text><text transform="translate(346.2,730) rotate(-90)">GND</text>
<text transform="translate(836.2,755) rotate(-90)">D13</text><text transform="translate(1014.2,820) rotate(-90)">VCC</text><text transform="translate(1065.2,680) rotate(-90)">GND</text><text transform="translate(1065.2,820) rotate(-90)">GND</text>
<text transform="translate(823.2,960) rotate(-90)">VCC</text><text transform="translate(844.2,975) rotate(-90)">D1/RX</text><text transform="translate(1062.2,1022) rotate(-90)">D0/TX</text><text transform="translate(1038.2,975) rotate(-90)">12V</text>
<text transform="translate(633.2,470) rotate(-90)">N$6</text><text transform="translate(759.2,560) rotate(-90)">ADC5/SCL</text><text transform="translate(763.2,290) rotate(-90)">3.3V</text>
<text transform="translate(998.2,300) rotate(-90)">GND3</text><text transform="translate(347.2,330) rotate(-90)">N$10</text><text transform="translate(1152.2,250) rotate(-90)">12V</text>
<text transform="translate(459.7,760) rotate(-90)">N$4</text><text transform="translate(556.7,770) rotate(-90)">N$12</text>
<text transform="translate(894.7,326) rotate(-90)">D2</text><text transform="translate(671.7,318) rotate(-90)">D3</text>
</g>
</svg>
</body></html>
